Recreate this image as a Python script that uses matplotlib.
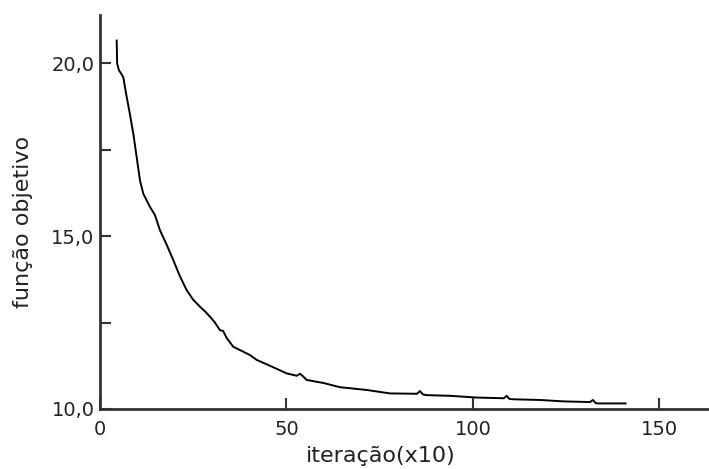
import matplotlib
matplotlib.use("Agg")
import matplotlib.pyplot as plt
from matplotlib.ticker import FixedLocator

# data
iteracao = [4.48, 4.6, 5.09, 5.6, 6.25, 7.16, 8.0, 8.93, 9.84, 10.72, 11.61, 13.40, 14.75, 16.09,
            17.9, 19.65, 21.4, 23.24, 25.0, 26.81, 28.2, 29.49, 30.7, 32.17, 33.0, 34.0, 35.74,
            38.0, 40.21, 42.01, 46.0, 50.05, 52.8,
            53.62, 54.4, 55.42, 60.0, 64.34, 71.50, 77.75, 85.0, 85.79, 86.6, 87.59,
            94.0, 100.99, 108.3, 109.03, 109.8, 110.80, 118.0, 124.21, 131.4, 132.17, 132.9,
            133.51, 140.94]
funcao = [20.66, 20.0, 19.80, 19.72, 19.60, 19.03, 18.55, 17.97, 17.29, 16.62, 16.23, 15.85, 15.61, 15.17,
          14.75, 14.31, 13.85, 13.44, 13.16, 12.96, 12.82, 12.67, 12.52, 12.28, 12.26, 12.05, 11.80,
          11.68, 11.56, 11.42, 11.23, 11.03, 10.96,
          11.02, 10.95, 10.84, 10.75, 10.63, 10.55, 10.45, 10.44, 10.52, 10.42, 10.40,
          10.38, 10.33, 10.31, 10.38, 10.29, 10.28, 10.26, 10.22, 10.20, 10.26, 10.17,
          10.16, 10.16]

x_ticks = [0, 50, 100, 150]
y_major = [10.0, 15.0, 20.0]
y_minor = [12.5, 17.5]
y_labels = ["10,0", "15,0", "20,0"]

fig = plt.figure(figsize=(7.09, 4.69), dpi=100)
ax = fig.add_axes([0.141, 0.128, 0.859, 0.840])
ax.plot(iteracao, funcao, color="black", lw=1.4)

ax.set_xlim(0, 163.3)
ax.set_ylim(10.0, 21.4)
ax.set_xticks(x_ticks)
ax.set_xticklabels([str(t) for t in x_ticks])
ax.set_yticks(y_major)
ax.set_yticklabels(y_labels)
ax.yaxis.set_minor_locator(FixedLocator(y_minor))

for s in ["top", "right"]:
    ax.spines[s].set_visible(False)
for s in ["left", "bottom"]:
    ax.spines[s].set_linewidth(2)
    ax.spines[s].set_color("#333333")

ax.tick_params(axis="both", which="both", direction="in", length=8, width=1.5,
               color="#333333", labelsize=14, labelcolor="#222222")
ax.tick_params(axis="x", pad=8)
ax.tick_params(axis="y", pad=4)

ax.set_xlabel("iteração(x10)", fontsize=16, color="#222222")
ax.set_ylabel("função objetivo", fontsize=16, color="#222222")
ax.xaxis.set_label_coords(0.461, -0.094)
ax.yaxis.set_label_coords(-0.110, 0.475)

fig.savefig("out.png", dpi=100)
